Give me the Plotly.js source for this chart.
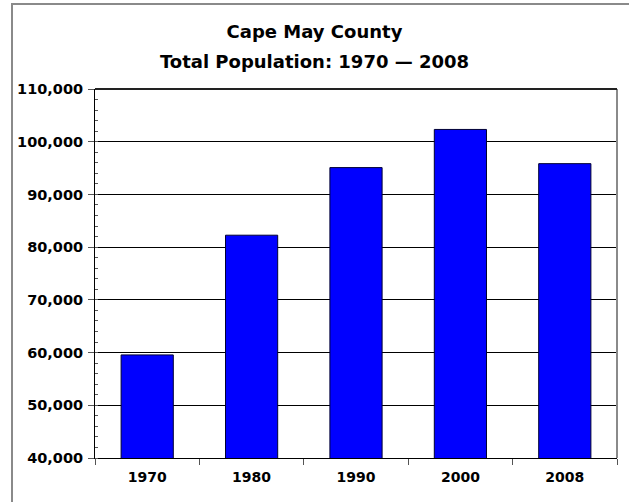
<!DOCTYPE html>
<html>
<head>
<meta charset="utf-8">
<script src="https://cdn.plot.ly/plotly-3.0.1.min.js"></script>
<style>
  html, body { margin: 0; padding: 0; background: #fff; overflow: hidden; }
  #wrap { position: relative; width: 629px; height: 502px; }
  #chart { width: 629px; height: 502px; }
  #frame { position: absolute; left: 11px; top: 3px; width: 640px; height: 520px;
           border-left: 2px solid #8a8a8a; border-top: 2px solid #8a8a8a; pointer-events: none; }
</style>
</head>
<body>
<div id="wrap">
  <div id="chart"></div>
  <div id="frame"></div>
</div>
<script>
const years = ['1970', '1980', '1990', '2000', '2008'];
const population = [59554, 82266, 95089, 102326, 95838];
const yTickVals = [40000, 50000, 60000, 70000, 80000, 90000, 100000, 110000];
const yTickText = ['40,000', '50,000', '60,000', '70,000', '80,000', '90,000', '100,000', '110,000'];
const titleLine1 = 'Cape May County';
const titleLine2 = 'Total Population: 1970 — 2008';

const FONT = '"Comic Sans MS", "DejaVu Sans", sans-serif';

const trace = {
  type: 'bar',
  x: years,
  y: population,
  marker: { color: '#0000ff', line: { color: '#000033', width: 1 } },
  hoverinfo: 'x+y'
};

const layout = {
  width: 629,
  height: 502,
  margin: { l: 95, r: 12, t: 89, b: 44, pad: 0 },
  paper_bgcolor: '#ffffff',
  plot_bgcolor: '#ffffff',
  bargap: 0.5,
  showlegend: false,
  font: { family: FONT, color: '#000', size: 14, weight: 'bold' },
  title: {
    text: '<span style="font-size:18px">' + titleLine1 + '</span><br>' +
          '<span style="font-size:18px">' + titleLine2 + '</span>',
    font: { family: FONT, size: 23, color: '#000', weight: 'bold' },
    x: 0.5, xanchor: 'center',
    yref: 'container',
    y: 1 - 38 / 502, yanchor: 'middle'
  },
  xaxis: {
    type: 'category',
    showgrid: false,
    showline: true,
    linecolor: '#000',
    linewidth: 1,
    ticks: 'outside',
    tickson: 'boundaries',
    ticklen: 6,
    tickcolor: '#555',
    ticklabelstandoff: 6,
    tickfont: { family: FONT, size: 14, color: '#000', weight: 'bold' },
    zeroline: false,
    fixedrange: true
  },
  yaxis: {
    range: [40000, 110000],
    tickvals: yTickVals,
    ticktext: yTickText,
    showgrid: true,
    gridcolor: '#000',
    gridwidth: 1,
    showline: true,
    linecolor: '#000',
    linewidth: 1,
    ticks: 'outside',
    ticklen: 6,
    tickcolor: '#555',
    ticklabelstandoff: 2,
    tickfont: { family: FONT, size: 14.5, color: '#000', weight: 'bold' },
    minor: { dtick: 2000, ticks: 'inside', ticklen: 3, tickcolor: '#555', showgrid: false },
    zeroline: false,
    fixedrange: true
  },
  shapes: [
    { type: 'line', xref: 'paper', yref: 'paper', x0: 1, x1: 1, y0: 0, y1: 1,
      line: { color: '#8a8a8a', width: 2 } },
    { type: 'line', xref: 'paper', yref: 'paper', x0: 0, x1: 1, y0: 1, y1: 1,
      line: { color: '#222', width: 2 } }
  ]
};

Plotly.newPlot('chart', [trace], layout, { displayModeBar: false, staticPlot: true });
</script>
</body>
</html>
